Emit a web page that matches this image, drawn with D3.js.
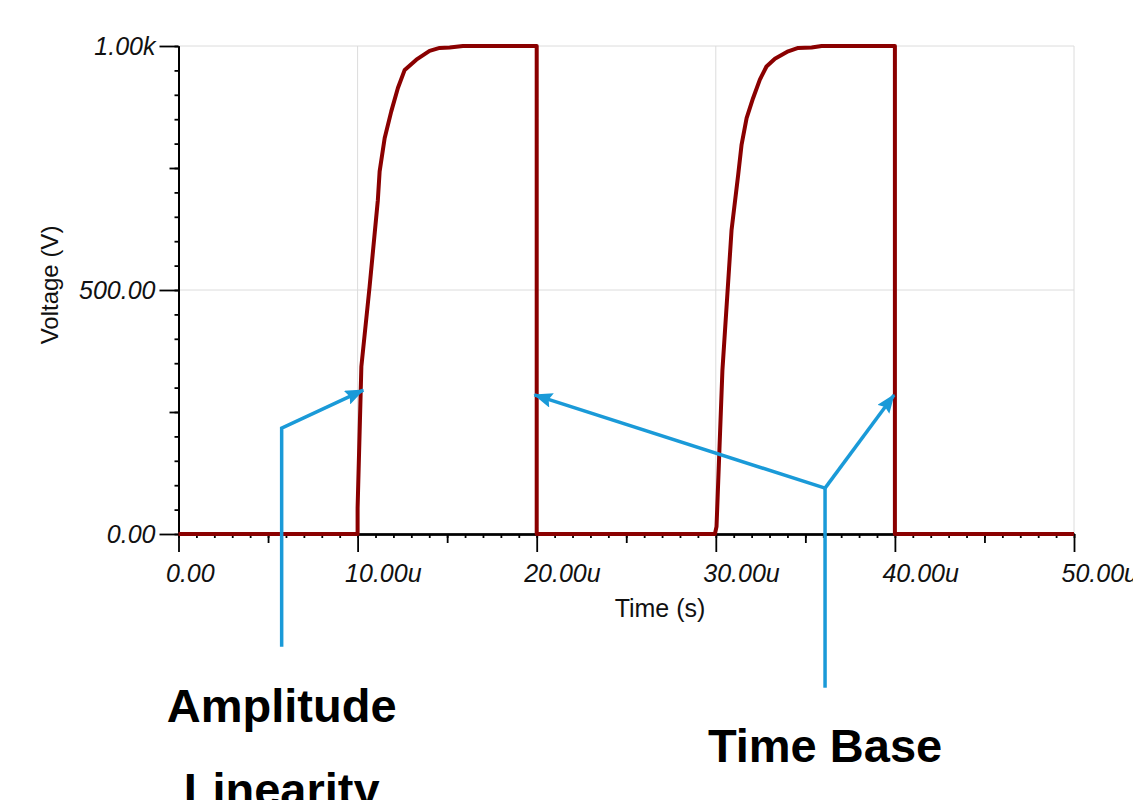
<!DOCTYPE html>
<html>
<head>
<meta charset="utf-8">
<script src="https://cdn.jsdelivr.net/npm/d3@7"></script>
<style>
  html, body { margin: 0; padding: 0; background: #fff; }
  svg { display: block; font-family: "Liberation Sans", Arial, sans-serif; }
</style>
</head>
<body>
<svg id="chart" width="1133" height="800"></svg>
<script>
// Transient trace: time in microseconds, voltage in volts
const timeUs = [0, 10.00, 10.00, 10.21, 10.67, 11.13, 11.23, 11.51, 11.88, 12.25, 12.63, 13.28, 14.02, 14.58, 15.14, 15.88, 20.00, 20.00,
                29.95, 30.04, 30.37, 30.88, 31.25, 31.44, 31.72, 32.08, 32.46, 32.83, 33.30, 34.04, 34.60, 35.35, 35.91, 40.00, 40.00, 50.00];
const voltage = [0, 0, 53, 343, 507, 684, 743, 811, 866, 914, 951, 972, 990, 996, 997, 1000, 1000, 0,
                 0, 15, 336, 623, 736, 798, 852, 893, 931, 958, 974, 989, 996, 997, 1000, 1000, 0, 0];

// Axis tick values and labels
const xMajorTicks = [0, 10, 20, 30, 40, 50];
const xTickLabels = ["0.00", "10.00u", "20.00u", "30.00u", "40.00u", "50.00u"];
const yMajorTicks = [0, 500, 1000];
const yTickLabels = ["0.00", "500.00", "1.00k"];

// Annotation callouts (time µs, voltage V)
const ampStem = [[5.76, -231], [5.76, 217], [10.32, 295]];
const timeStem = [[36.10, -315], [36.10, 94]];
const timeTargets = [[19.87, 285], [39.95, 285]];
const calloutTexts = [
  { text: "Amplitude", t: 5.76, v: -385 },
  { text: "Linearity", t: 5.76, v: -557 },
  { text: "Time Base", t: 36.10, v: -467 }
];

const svg = d3.select("#chart");
const margin = { left: 178.5, right: 59, top: 46, bottom: 266 };
const W = 1133, H = 800;

const x = d3.scaleLinear().domain([0, 50]).range([margin.left, W - margin.right]);
const y = d3.scaleLinear().domain([0, 1000]).range([H - margin.bottom, margin.top]);

// grid
const grid = svg.append("g").attr("stroke", "#dcdcdc").attr("stroke-width", 1);
grid.selectAll("line.v").data(xMajorTicks.slice(1)).join("line")
  .attr("x1", d => x(d)).attr("x2", d => x(d))
  .attr("y1", y(0)).attr("y2", y(1000));
grid.selectAll("line.h").data(yMajorTicks.slice(1)).join("line")
  .attr("x1", x(0)).attr("x2", x(50))
  .attr("y1", d => y(d)).attr("y2", d => y(d));

// x axis: minor, medium, major ticks
const xg = svg.append("g").attr("transform", `translate(0,${y(0)})`);
xg.append("g").call(d3.axisBottom(x).tickValues(d3.range(0, 51, 1)).tickSize(4).tickSizeOuter(0).tickFormat(""));
xg.append("g").call(d3.axisBottom(x).tickValues(d3.range(5, 50, 10)).tickSize(9).tickSizeOuter(0).tickFormat(""));
xg.append("g").call(d3.axisBottom(x).tickValues(xMajorTicks).tickSize(18).tickSizeOuter(0)
  .tickFormat((d, i) => xTickLabels[i]));
xg.selectAll("path.domain").attr("stroke", "#000").attr("stroke-width", 2);
xg.selectAll(".tick line").attr("stroke", "#000").attr("stroke-width", 1.8);
xg.selectAll(".tick text")
  .attr("text-anchor", "start").attr("x", -13).attr("y", 48).attr("dy", null)
  .attr("font-family", "Liberation Sans, Arial, sans-serif")
  .attr("font-size", 25).attr("font-style", "italic").attr("fill", "#111");

// y axis: minor, medium, major ticks
const yg = svg.append("g").attr("transform", `translate(${x(0)},0)`);
yg.append("g").call(d3.axisLeft(y).tickValues(d3.range(0, 1001, 50)).tickSize(4).tickSizeOuter(0).tickFormat(""));
yg.append("g").call(d3.axisLeft(y).tickValues([250, 750]).tickSize(9).tickSizeOuter(0).tickFormat(""));
yg.append("g").call(d3.axisLeft(y).tickValues(yMajorTicks).tickSize(19).tickSizeOuter(0)
  .tickFormat((d, i) => yTickLabels[i]));
yg.selectAll("path.domain").attr("stroke", "#000").attr("stroke-width", 2);
yg.selectAll(".tick line").attr("stroke", "#000").attr("stroke-width", 1.8);
yg.selectAll(".tick text")
  .attr("x", -23).attr("dy", "0.35em")
  .attr("font-family", "Liberation Sans, Arial, sans-serif")
  .attr("font-size", 25).attr("font-style", "italic").attr("fill", "#111");

// axis titles
svg.append("text").attr("x", 660).attr("y", 617).attr("text-anchor", "middle")
  .attr("font-size", 25).attr("fill", "#111").text("Time (s)");
svg.append("text").attr("transform", "translate(58,285) rotate(-90)").attr("text-anchor", "middle")
  .attr("font-size", 24).attr("fill", "#111").text("Voltage (V)");

// waveform
const pts = timeUs.map((t, i) => [t, voltage[i]]);
svg.append("path").datum(pts)
  .attr("fill", "none").attr("stroke", "#8a0000").attr("stroke-width", 4)
  .attr("stroke-linejoin", "round")
  .attr("d", d3.line().x(d => x(d[0])).y(d => y(d[1])));

// callout arrows
const blue = "#1a9ad8";
svg.append("defs").append("marker")
  .attr("id", "head").attr("viewBox", "0 0 19 15").attr("refX", 18).attr("refY", 7.5)
  .attr("markerWidth", 19).attr("markerHeight", 15).attr("markerUnits", "userSpaceOnUse")
  .attr("orient", "auto")
  .append("path").attr("d", "M0,0 L19,7.5 L0,15 L3,7.5 Z").attr("fill", blue);

const arrowLine = d3.line().x(d => x(d[0])).y(d => y(d[1]));
const arrows = svg.append("g").attr("fill", "none").attr("stroke", blue).attr("stroke-width", 3.5);
arrows.append("path").attr("d", arrowLine(ampStem)).attr("marker-end", "url(#head)");
arrows.append("path").attr("d", arrowLine(timeStem));
arrows.selectAll("path.branch").data(timeTargets).join("path")
  .attr("d", d => arrowLine([timeStem[1], d])).attr("marker-end", "url(#head)");

// callout captions
svg.selectAll("text.callout").data(calloutTexts).join("text")
  .attr("x", d => x(d.t)).attr("y", d => y(d.v))
  .attr("text-anchor", "middle").attr("font-weight", "bold").attr("font-size", 47)
  .attr("fill", "#000").text(d => d.text);
</script>
</body>
</html>
